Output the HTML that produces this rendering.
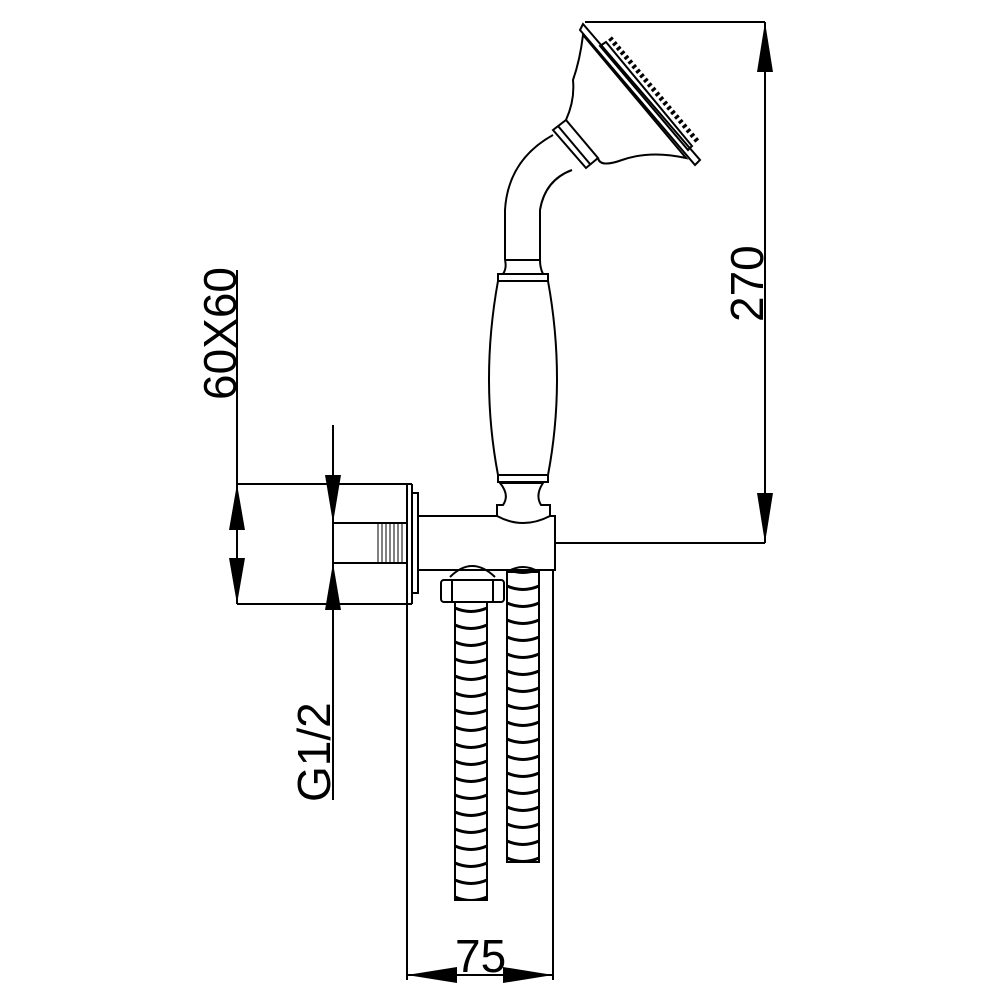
<!DOCTYPE html>
<html><head><style>html,body{margin:0;padding:0;background:#fff}svg{display:block}</style></head>
<body>
<svg width="1000" height="1000" viewBox="0 0 1000 1000" xmlns="http://www.w3.org/2000/svg">
<defs>
<pattern id="hl" patternUnits="userSpaceOnUse" x="455" y="600" width="32" height="17">
<path d="M0,8 Q16,15 32,8" fill="none" stroke="#000" stroke-width="3"/>
</pattern>
<pattern id="hr" patternUnits="userSpaceOnUse" x="507" y="595" width="32" height="17">
<path d="M0,8 Q16,15 32,8" fill="none" stroke="#000" stroke-width="3"/>
</pattern>
</defs>
<g fill="none" stroke="#000" stroke-width="2">
<!-- dimension 60X60 -->
<line x1="237" y1="270" x2="237" y2="604"/>
<line x1="237" y1="484" x2="412" y2="484"/>
<line x1="237" y1="604" x2="412" y2="604"/>
<!-- G1/2 -->
<line x1="333" y1="425" x2="333" y2="800"/>
<!-- fitting -->
<rect x="333" y="523" width="74" height="40"/>
<line x1="407" y1="484" x2="407" y2="980"/>
<line x1="412" y1="484" x2="412" y2="604"/>
<rect x="412" y="493" width="6" height="100"/>
<!-- body -->
<path d="M418,516 H497 M550,516 H555 V570 H418"/>
<line x1="553" y1="570" x2="553" y2="980"/>
<line x1="555" y1="543" x2="765" y2="543"/>
<!-- 270 -->
<line x1="765" y1="22" x2="765" y2="543"/>
<line x1="585" y1="22" x2="765" y2="22"/>
<!-- 75 -->
<line x1="407" y1="975" x2="553" y2="975"/>
<!-- handle -->
<path d="M497,516 Q523,530 550,516 V505 H541 Q535,495 543,483 H500 Q510,495 503,505 H497 Z"/>
<path d="M498,475 H548 V482 H498 Z"/>
<path d="M498,475 Q480,380 498,281 H548 Q566,380 548,475"/>
<path d="M498,274 H548 V281 H498 Z"/>
<path d="M503,274 Q507,268 505,260 M543,274 Q540,268 540,260"/>
<line x1="505" y1="260" x2="540" y2="260"/>
<!-- neck -->
<path d="M505,260 V210 Q508,160 553,135"/>
<path d="M540,260 V210 Q545,180 572,170"/>
<path d="M553,130 L566,120 L598,158 L586,168 Z"/>
<line x1="558" y1="126" x2="590" y2="164"/>
<!-- head -->
<path d="M566,120 Q575,100 573,80 Q580,60 583,35 L686,158 Q650,150 622,160 Q600,168 598,158"/>
<path d="M583,24 L700,160 L695,165 L580,30 Z"/>
<path d="M606,42 L692,146 L688,150 L600,46 Z"/>
<!-- nut & hoses -->
<path d="M450,577 Q472,555 495,577"/>
<rect x="441" y="580" width="63" height="22" rx="3"/>
<line x1="452" y1="580" x2="452" y2="602"/><line x1="493" y1="580" x2="493" y2="602"/>
<path d="M507,572 Q523,562 539,572"/>
</g>
<rect x="455" y="602" width="32" height="298" fill="url(#hl)" stroke="#000" stroke-width="2"/>
<rect x="507" y="572" width="32" height="290" fill="url(#hr)" stroke="#000" stroke-width="2"/>
<!-- thread -->
<g stroke="#000" stroke-width="1">
<line x1="378" y1="523" x2="378" y2="563"/><line x1="382" y1="523" x2="382" y2="563"/><line x1="386" y1="523" x2="386" y2="563"/><line x1="390" y1="523" x2="390" y2="563"/><line x1="394" y1="523" x2="394" y2="563"/><line x1="398" y1="523" x2="398" y2="563"/><line x1="402" y1="523" x2="402" y2="563"/>
</g>
<!-- head nozzles -->
<path d="M610,38 L698,142" stroke="#000" stroke-width="5" stroke-dasharray="3,3"/>
<!-- arrows -->
<g fill="#000">
<polygon points="237,484 229,530 245,530"/>
<polygon points="237,604 229,558 245,558"/>
<polygon points="333,523 325,475 341,475"/>
<polygon points="333,563 325,610 341,610"/>
<polygon points="765,22 757,72 773,72"/>
<polygon points="765,543 757,493 773,493"/>
<polygon points="407,975 457,967 457,983"/>
<polygon points="553,975 503,967 503,983"/>
</g>
<g font-family="'Liberation Sans',sans-serif" font-size="46" fill="#000">
<text transform="translate(236,400) rotate(-90)">60X60</text>
<text transform="translate(330,802) rotate(-90)">G1/2</text>
<text transform="translate(763,322) rotate(-90)">270</text>
<text x="455" y="972">75</text>
</g>
</svg>
</body></html>
